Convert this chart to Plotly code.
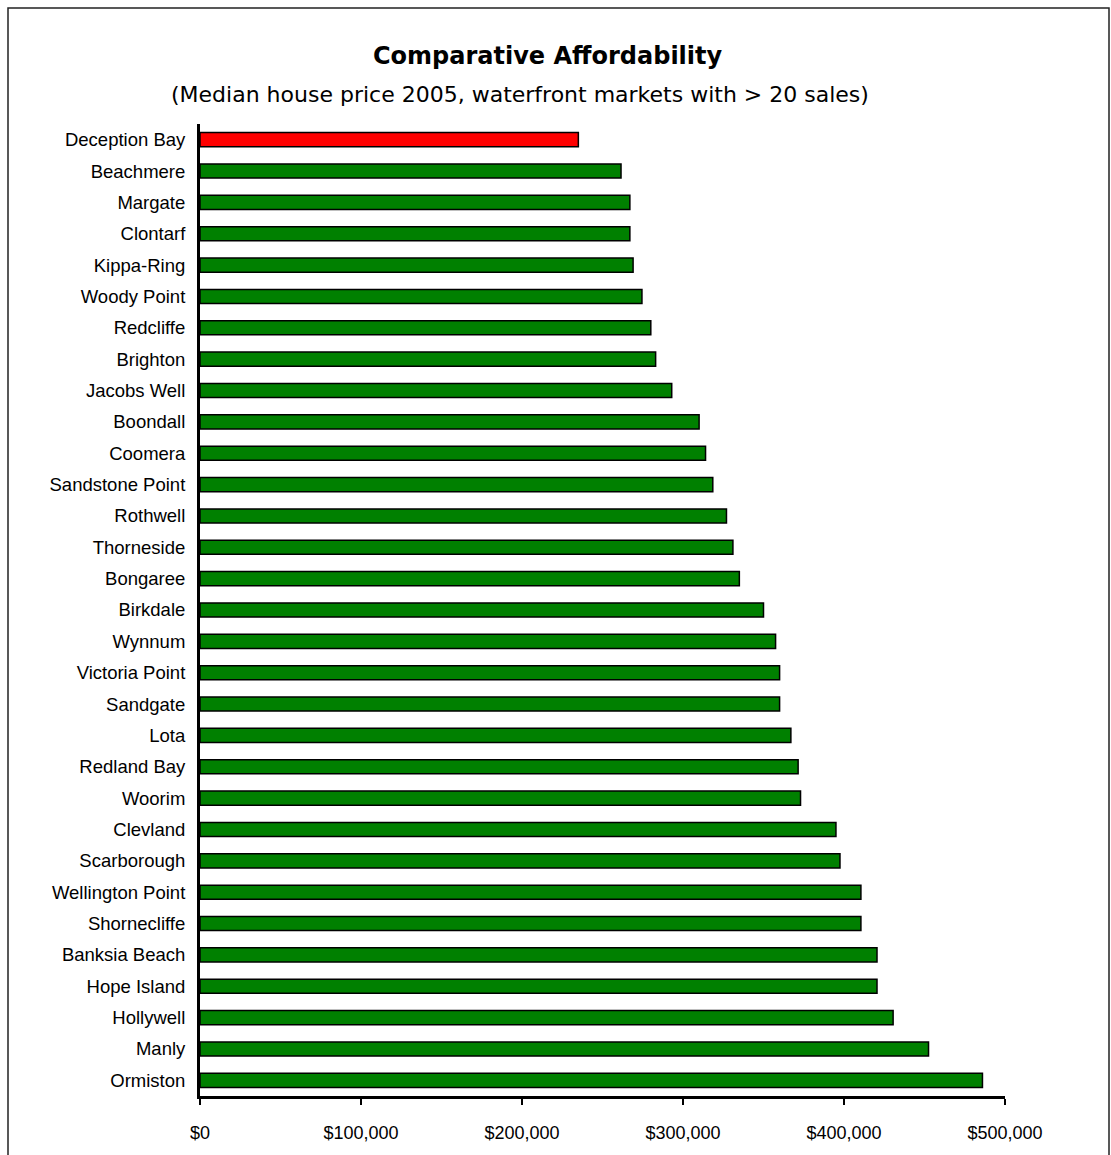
import plotly.graph_objects as go

suburbs = ["Deception Bay", "Beachmere", "Margate", "Clontarf", "Kippa-Ring", "Woody Point",
           "Redcliffe", "Brighton", "Jacobs Well", "Boondall", "Coomera", "Sandstone Point",
           "Rothwell", "Thorneside", "Bongaree", "Birkdale", "Wynnum", "Victoria Point",
           "Sandgate", "Lota", "Redland Bay", "Woorim", "Clevland", "Scarborough",
           "Wellington Point", "Shornecliffe", "Banksia Beach", "Hope Island", "Hollywell",
           "Manly", "Ormiston"]
median_price = [235000, 261500, 267000, 267000, 269000, 274500,
                280000, 283000, 293000, 310000, 314000, 318500,
                327000, 331000, 335000, 350000, 357500, 360000,
                360000, 367000, 371500, 373000, 395000, 397500,
                410500, 410500, 420500, 420500, 430500,
                452500, 486000]
highlight = "Deception Bay"
tick_vals = [0, 100000, 200000, 300000, 400000, 500000]
tick_text = ["$0", "$100,000", "$200,000", "$300,000", "$400,000", "$500,000"]

colors = ["#FF0000" if s == highlight else "#008000" for s in suburbs]

W, H = 1111, 1155
L, R, T, B = 200, 106, 124, 59
pw, ph = W - L - R, H - T - B

def px_x(px):
    return (px - L) / pw

def px_y(py):
    return (H - B - py) / ph

fig = go.Figure(go.Bar(
    x=median_price, y=suburbs, orientation="h",
    marker=dict(color=colors, line=dict(color="#000000", width=1.5)),
    width=0.45,
))

fig.update_layout(
    width=W, height=H,
    margin=dict(l=L, r=R, t=T, b=B),
    paper_bgcolor="white", plot_bgcolor="white",
    showlegend=False,
    font=dict(family="Liberation Sans, Arial, sans-serif", color="black", size=19),
    xaxis=dict(range=[0, 500000], tickvals=tick_vals, ticktext=tick_text,
               showgrid=False, zeroline=False, showline=True, linecolor="black", linewidth=3,
               ticks="outside", ticklen=6, tickwidth=2, tickcolor="black",
               tickfont=dict(size=18), ticklabelstandoff=12),
    yaxis=dict(autorange="reversed", showgrid=False, zeroline=False, showline=True,
               linecolor="black", linewidth=3, ticks="", tickfont=dict(size=18.5),
               ticklabelstandoff=8),
    annotations=[
        dict(text="<b>Comparative Affordability</b>", xref="paper", yref="paper",
             x=px_x(548), y=px_y(56), showarrow=False, xanchor="center", yanchor="middle",
             font=dict(family="DejaVu Sans, sans-serif", size=24, color="black")),
        dict(text="(Median house price 2005, waterfront markets with > 20 sales)", xref="paper", yref="paper",
             x=px_x(520), y=px_y(95), showarrow=False, xanchor="center", yanchor="middle",
             font=dict(family="DejaVu Sans, sans-serif", size=22, color="black")),
    ],
    shapes=[
        dict(type="rect", xref="paper", yref="paper",
             x0=px_x(8), x1=px_x(1109), y0=px_y(1175), y1=px_y(8),
             line=dict(color="#222222", width=1.5), fillcolor="rgba(0,0,0,0)", layer="below"),
    ],
)

fig.write_html("out.html")
